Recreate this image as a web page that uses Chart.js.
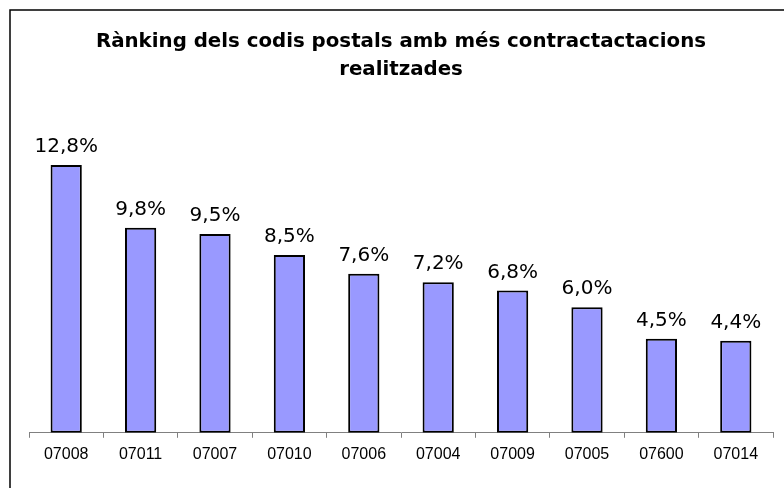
<!DOCTYPE html>
<html>
<head>
<meta charset="utf-8">
<script src="https://cdn.jsdelivr.net/npm/chart.js@4"></script>
<style>
  html, body { margin: 0; padding: 0; background: #fff; }
  #wrap { width: 784px; height: 488px; position: relative; }
</style>
</head>
<body>
<div id="wrap"><canvas id="chart" width="784" height="488"></canvas></div>
<script>
// Codis postals i percentatge de contractacions
const codis = ['07008', '07011', '07007', '07010', '07006', '07004', '07009', '07005', '07600', '07014'];
const percentatges = [12.8, 9.8, 9.5, 8.5, 7.6, 7.2, 6.8, 6.0, 4.5, 4.4];
const titol = ['Rànking dels codis postals amb més contractactacions', 'realitzades'];

// frame round the whole chart
const framePlugin = {
    id: 'frame',
    beforeDraw(chart) {
        const ctx = chart.ctx;
        ctx.save();
        ctx.fillStyle = '#ffffff';
        ctx.fillRect(0, 0, chart.width, chart.height);
        ctx.strokeStyle = '#000000';
        ctx.lineWidth = 1.5;
        ctx.strokeRect(10, 10, chart.width + 10, chart.height + 10);
        ctx.restore();
    }
};

// value labels above each bar
const valueLabels = {
    id: 'valueLabels',
    afterDatasetsDraw(chart) {
        const ctx = chart.ctx;
        const meta = chart.getDatasetMeta(0);
        ctx.save();
        ctx.font = '20px "DejaVu Sans"';
        ctx.fillStyle = '#000000';
        ctx.textAlign = 'center';
        ctx.textBaseline = 'alphabetic';
        meta.data.forEach((bar, i) => {
            const txt = percentatges[i].toFixed(1).replace('.', ',') + '%';
            ctx.fillText(txt, bar.x, bar.y - 13);
        });
        ctx.restore();
    }
};

const ctx = document.getElementById('chart').getContext('2d');
new Chart(ctx, {
    type: 'bar',
    data: {
        labels: codis,
        datasets: [{
            data: percentatges,
            backgroundColor: '#9999FF',
            borderColor: '#000000',
            borderWidth: 2,
            borderSkipped: false,
            categoryPercentage: 1,
            barPercentage: 0.42
        }]
    },
    options: {
        responsive: false,
        animation: false,
        layout: {
            padding: { top: 9, left: 29, right: 11, bottom: 17 }
        },
        scales: {
            y: {
                display: false,
                min: 0,
                max: 14
            },
            x: {
                border: { color: '#808080', width: 1 },
                grid: {
                    offset: true,
                    drawOnChartArea: false,
                    drawTicks: true,
                    tickLength: 5,
                    color: '#808080'
                },
                ticks: {
                    color: '#000000',
                    padding: 7,
                    font: { family: '"Liberation Sans", Arial', size: 16 }
                }
            }
        },
        plugins: {
            legend: { display: false },
            tooltip: { enabled: false },
            title: {
                display: true,
                text: titol,
                color: '#000000',
                font: { family: '"DejaVu Sans"', size: 19.8, weight: 'bold', lineHeight: 1.414 },
                padding: { top: 19, bottom: 56 }
            }
        }
    },
    plugins: [framePlugin, valueLabels]
});
</script>
</body>
</html>
